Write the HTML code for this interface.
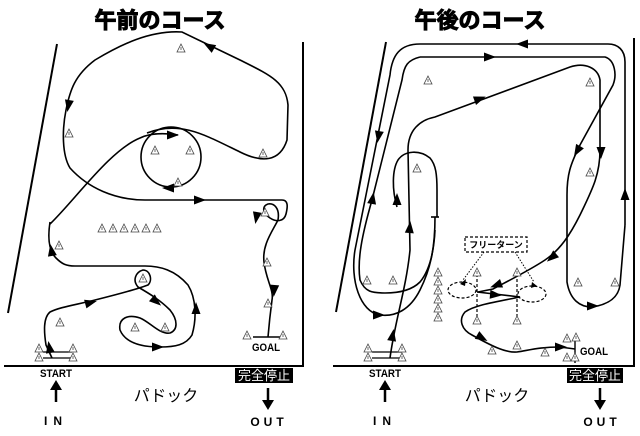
<!DOCTYPE html>
<html><head><meta charset="utf-8"><style>
html,body{margin:0;padding:0;background:#fff;}
svg{display:block;}
text{font-family:"Liberation Sans","Noto Sans CJK JP",sans-serif;}
</style></head><body>
<svg width="640" height="436" viewBox="0 0 640 436" xmlns="http://www.w3.org/2000/svg">
<defs>
<g id="c"><path d="M0,-4 L4,4 L-4,4 Z" fill="#fff" stroke="#444" stroke-width="0.8"/><line x1="0" y1="-1" x2="0" y2="2" stroke="#444" stroke-width="0.8"/></g>
<path id="a" d="M-8,-4.5 L4,0 L-8,4.5 Z" fill="#000"/>
</defs>
<g fill="none" stroke="#000" stroke-width="1.6">
<!-- LEFT PANEL -->
<line x1="57" y1="44" x2="8" y2="313" stroke-width="2"/>
<line x1="303" y1="42" x2="303" y2="366" stroke-width="2"/>
<line x1="4" y1="366" x2="304" y2="366" stroke-width="2"/>
<path d="M147,133 C180,120 205,135 240,152 C262,163 280,162 287,140 L288,105 C286,82 270,75 240,60 L182,32 C150,30 120,45 95,60 C75,75 70,90 66,110 C62,130 62,155 70,168 C88,188 115,200 145,200 L282,200 C288,200 288,206 286,214 C284,222 276,222 270,218 C262,213 262,206 268,204 C274,203 280,208 278,220 C272,232 262,245 264,262 C266,280 274,290 272,300 C270,315 269,325 268,337"/>
<circle cx="171" cy="157" r="30"/>
<path d="M50,224 C75,200 110,150 140,138 C150,133 165,133 178,135"/>
<path d="M50,222 C48,235 48,250 56,258 C62,264 66,266 75,266 L145,266 C160,266 175,270 188,285 C196,298 197,318 192,335 C186,345 175,347 160,347 C140,347 125,342 120,330 C118,318 128,314 140,318 C150,322 160,335 170,333 C178,330 178,320 170,310 C160,300 150,294 138,287 C132,280 136,272 143,270 C150,270 153,280 148,285 C135,290 115,295 95,300 C75,305 60,307 50,312 C43,318 44,332 46,345 L52,358"/>
<line x1="43" y1="352" x2="72" y2="352" stroke-width="1.2"/>
<line x1="43" y1="358" x2="72" y2="358" stroke-width="1.2"/>
<line x1="253" y1="337" x2="282" y2="337" stroke-width="1.4"/>
<line x1="56" y1="402" x2="56" y2="388" stroke-width="2.5"/>
<line x1="268" y1="388" x2="268" y2="402" stroke-width="2.5"/>

<!-- RIGHT PANEL -->
<line x1="386" y1="42" x2="336" y2="312" stroke-width="2"/>
<line x1="634" y1="38" x2="634" y2="366" stroke-width="2"/>
<line x1="333" y1="366" x2="635" y2="366" stroke-width="2"/>
<path d="M625,225 L625,62 C625,50 618,44 608,44 L420,44 C400,44 392,55 390,75 L355,250 C350,280 360,312 380,315 C395,317 410,310 420,290 C430,270 435,250 435,217"/>
<line x1="431" y1="217" x2="439" y2="217"/>
<path d="M420,57 L605,57 C615,60 617,75 613,85 L580,145 C570,165 567,175 567,195 L567,282 C570,300 580,307 592,307 C605,305 618,300 620,285 L625,225"/>
<path d="M420,57 C408,60 404,65 402,80 L372,200 C362,235 357,260 360,280 C365,292 372,293 385,293 C400,293 412,290 420,282 C430,270 434,250 435,230"/>
<path d="M397,207 C392,190 392,170 398,160 C405,150 420,150 430,158 C436,165 437,175 437,190 L437,217"/>
<path d="M390,358 C395,320 406,290 410,250 L408,150 C408,130 420,120 435,117 L570,67 C585,62 598,68 600,80 L600,150 C600,175 592,190 580,215 C570,235 560,250 545,260 C530,270 510,280 493,289 L478,292"/>
<path d="M477,292 L520,297 C495,302 475,305 465,312 C458,320 462,330 472,335 C490,345 505,353 517,352 C530,350 540,347 560,347 L575,349"/>
<line x1="575" y1="337" x2="575" y2="363" stroke-width="1.4"/>
<line x1="372" y1="352" x2="402" y2="352" stroke-width="1.2"/>
<line x1="372" y1="358" x2="402" y2="358" stroke-width="1.2"/>
<line x1="385" y1="402" x2="385" y2="388" stroke-width="2.5"/>
<line x1="600" y1="388" x2="600" y2="402" stroke-width="2.5"/>
</g>
<g fill="none" stroke="#000" stroke-width="1.2" stroke-dasharray="3,2">
<ellipse cx="462" cy="290" rx="14" ry="8"/>
<ellipse cx="532" cy="294" rx="14" ry="8"/>
<line x1="477" y1="274" x2="477" y2="318"/>
<line x1="517" y1="274" x2="517" y2="318"/>
<rect x="465" y="237" width="62" height="15"/>
</g>
<g fill="none" stroke="#000" stroke-width="1" stroke-dasharray="1.5,1.5">
<line x1="484" y1="252" x2="463" y2="280"/>
<line x1="515" y1="252" x2="534" y2="282"/>
</g>
<path d="M460,284 l6,-5 l-1,7 z M537,286 l-5,-4 l-1,6 z" fill="#000"/>
<use href="#a" transform="translate(207,45) rotate(-150)"/>
<use href="#a" transform="translate(68,108) rotate(100)"/>
<use href="#a" transform="translate(175,135) rotate(0)"/>
<use href="#a" transform="translate(166,188) rotate(180)"/>
<use href="#a" transform="translate(202,200) rotate(0)"/>
<use href="#a" transform="translate(256,220) rotate(100)"/>
<use href="#a" transform="translate(51,248) rotate(-100)"/>
<use href="#a" transform="translate(274,293) rotate(95)"/>
<use href="#a" transform="translate(93,302) rotate(-15)"/>
<use href="#a" transform="translate(196,306) rotate(-90)"/>
<use href="#a" transform="translate(158,303) rotate(40)"/>
<use href="#a" transform="translate(160,347) rotate(0)"/>
<use href="#a" transform="translate(49,345) rotate(-100)"/>
<use href="#a" transform="translate(520,44) rotate(180)"/>
<use href="#a" transform="translate(492,57) rotate(0)"/>
<use href="#a" transform="translate(378,139) rotate(100)"/>
<use href="#a" transform="translate(482,98) rotate(-20)"/>
<use href="#a" transform="translate(576,153) rotate(120)"/>
<use href="#a" transform="translate(601,155) rotate(90)"/>
<use href="#a" transform="translate(373,196) rotate(-80)"/>
<use href="#a" transform="translate(397,197) rotate(-90)"/>
<use href="#a" transform="translate(625,192) rotate(-90)"/>
<use href="#a" transform="translate(410,225) rotate(-85)"/>
<use href="#a" transform="translate(550,259) rotate(140)"/>
<use href="#a" transform="translate(494,286) rotate(160)"/>
<use href="#a" transform="translate(498,295) rotate(5)"/>
<use href="#a" transform="translate(595,306) rotate(0)"/>
<use href="#a" transform="translate(381,315) rotate(0)"/>
<use href="#a" transform="translate(393,333) rotate(-80)"/>
<use href="#a" transform="translate(484,339) rotate(30)"/>
<use href="#a" transform="translate(563,347) rotate(0)"/>
<path d="M50,390 L56,380 L62,390 Z M262,400 L268,410 L274,400 Z M379,390 L385,380 L391,390 Z M594,400 L600,410 L606,400 Z" fill="#000"/>
<g>
<use href="#c" x="181" y="48"/><use href="#c" x="69" y="133"/><use href="#c" x="155" y="150"/><use href="#c" x="190" y="150"/><use href="#c" x="178" y="182"/><use href="#c" x="263" y="153"/><use href="#c" x="265" y="212"/><use href="#c" x="59" y="245"/>
<use href="#c" x="102" y="228"/><use href="#c" x="113" y="228"/><use href="#c" x="124" y="228"/><use href="#c" x="135" y="228"/><use href="#c" x="146" y="228"/><use href="#c" x="157" y="228"/>
<use href="#c" x="143" y="278"/><use href="#c" x="60" y="322"/><use href="#c" x="135" y="327"/><use href="#c" x="165" y="327"/><use href="#c" x="267" y="262"/><use href="#c" x="268" y="303"/><use href="#c" x="247" y="335"/><use href="#c" x="283" y="335"/>
<use href="#c" x="39" y="348"/><use href="#c" x="39" y="357"/><use href="#c" x="73" y="348"/><use href="#c" x="73" y="357"/>
<use href="#c" x="428" y="80"/><use href="#c" x="590" y="82"/><use href="#c" x="417" y="168"/><use href="#c" x="590" y="172"/>
<use href="#c" x="367" y="280"/><use href="#c" x="393" y="280"/><use href="#c" x="578" y="282"/><use href="#c" x="615" y="282"/>
<use href="#c" x="438" y="272"/><use href="#c" x="438" y="281"/><use href="#c" x="438" y="290"/><use href="#c" x="438" y="299"/><use href="#c" x="438" y="308"/><use href="#c" x="438" y="317"/>
<use href="#c" x="477" y="272"/><use href="#c" x="517" y="272"/><use href="#c" x="477" y="320"/><use href="#c" x="517" y="320"/>
<use href="#c" x="492" y="350"/><use href="#c" x="517" y="345"/><use href="#c" x="545" y="352"/>
<use href="#c" x="567" y="338"/><use href="#c" x="576" y="337"/><use href="#c" x="567" y="357"/><use href="#c" x="575" y="357"/>
<use href="#c" x="368" y="348"/><use href="#c" x="368" y="357"/><use href="#c" x="402" y="348"/><use href="#c" x="402" y="357"/>
</g>
<g font-weight="bold" text-anchor="middle">
<text x="160" y="28" font-size="22" stroke="#000" stroke-width="1">午前のコース</text>
<text x="480" y="28" font-size="22" stroke="#000" stroke-width="1">午後のコース</text>
<text x="56" y="377" font-size="11" textLength="32" lengthAdjust="spacingAndGlyphs">START</text>
<text x="385" y="377" font-size="11" textLength="32" lengthAdjust="spacingAndGlyphs">START</text>
<text x="266" y="351" font-size="11" textLength="28" lengthAdjust="spacingAndGlyphs">GOAL</text>
<text x="594" y="355" font-size="11" textLength="28" lengthAdjust="spacingAndGlyphs">GOAL</text>
<text x="56" y="425" font-size="12" letter-spacing="6">IN</text>
<text x="385" y="425" font-size="12" letter-spacing="6">IN</text>
<text x="269" y="426" font-size="12" letter-spacing="4">OUT</text>
<text x="602" y="426" font-size="12" letter-spacing="4">OUT</text>
</g>
<rect x="235" y="368" width="58" height="15" fill="#000"/>
<rect x="567" y="368" width="56" height="15" fill="#000"/>
<g text-anchor="middle">
<text x="264" y="380" font-size="13" fill="#fff">完全停止</text>
<text x="595" y="380" font-size="13" fill="#fff">完全停止</text>
<text x="166" y="401" font-size="16">パドック</text>
<text x="497" y="401" font-size="16">パドック</text>
<text x="496" y="248" font-size="9" font-weight="bold">フリーターン</text>
</g>
</svg>
</body></html>
